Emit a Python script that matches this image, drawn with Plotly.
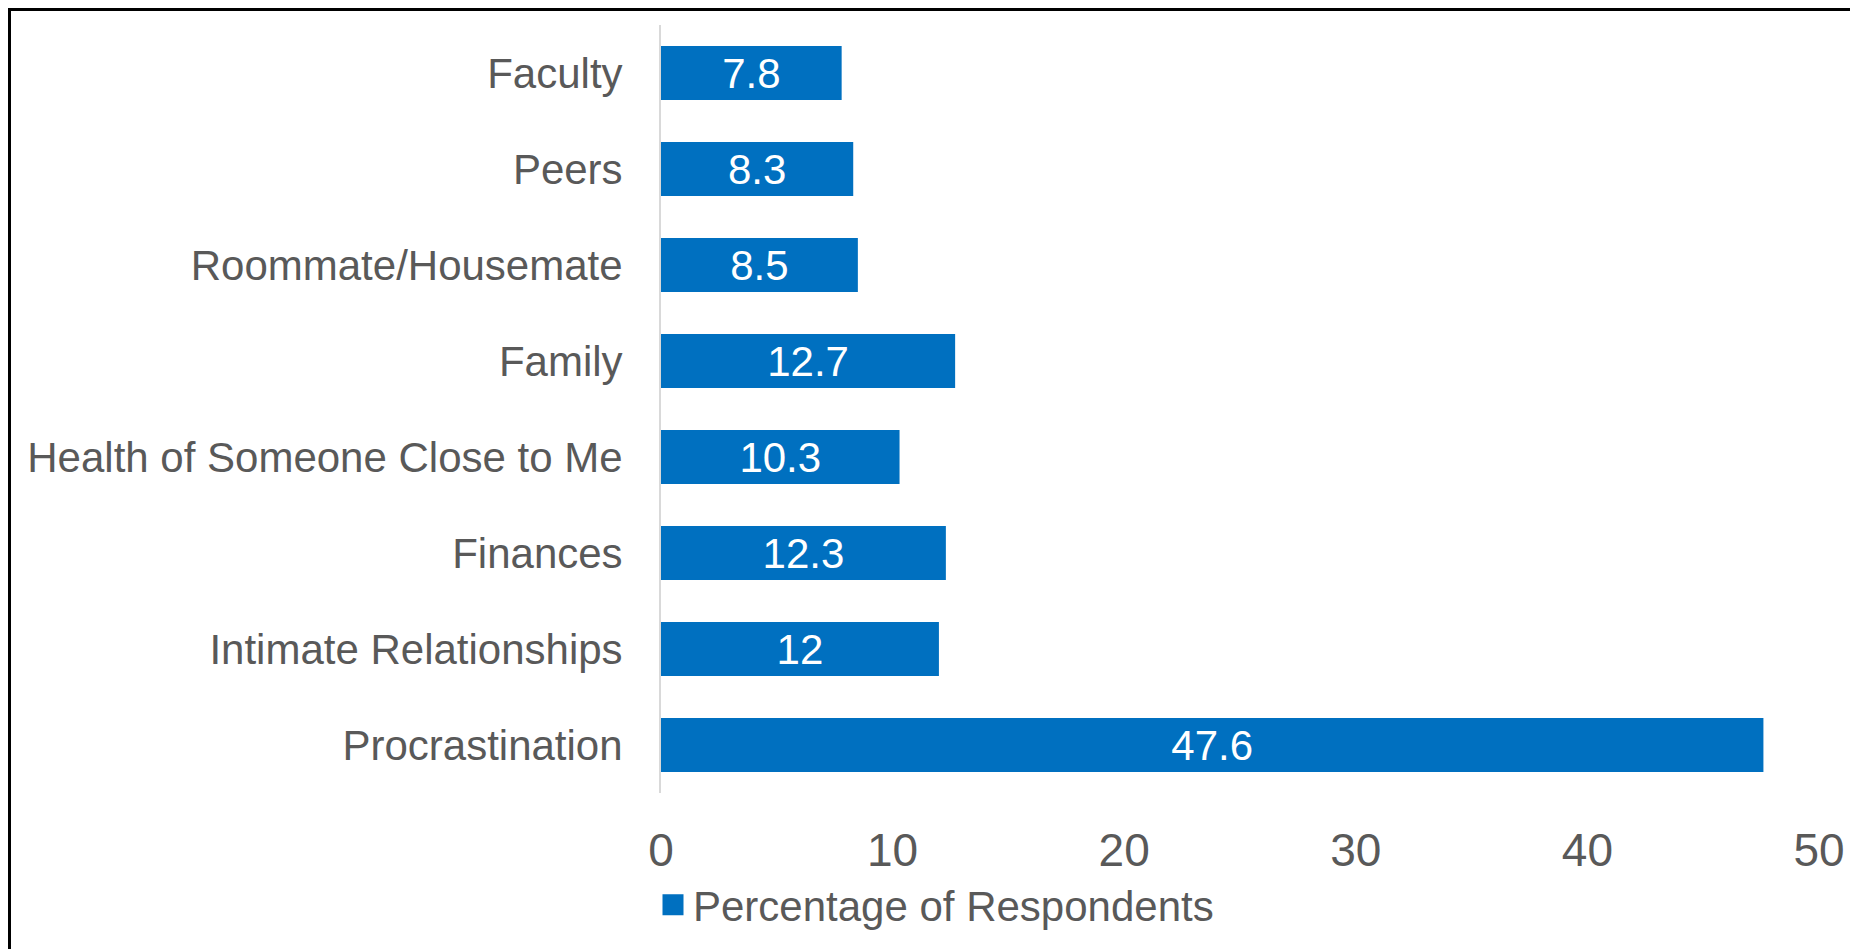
import plotly.graph_objects as go

categories = ["Faculty", "Peers", "Roommate/Housemate", "Family",
              "Health of Someone Close to Me", "Finances",
              "Intimate Relationships", "Procrastination"]
values = [7.8, 8.3, 8.5, 12.7, 10.3, 12.3, 12, 47.6]
value_labels = ["7.8", "8.3", "8.5", "12.7", "10.3", "12.3", "12", "47.6"]
series_name = "Percentage of Respondents"
x_ticks = [0, 10, 20, 30, 40, 50]

# page has an 8px body margin, so the figure is 8px smaller
W, H = 1850, 941
L, R, T, B = 653, 39, 17, 156
FONT = "Liberation Sans, Arial, sans-serif"
GRAY = "#595959"
BLUE = "#0070C0"

fig = go.Figure()
fig.add_trace(go.Bar(
    y=categories, x=values, orientation="h",
    marker=dict(color=BLUE, line=dict(width=0)),
    text=value_labels, textposition="inside", insidetextanchor="middle",
    textfont=dict(color="white", size=42, family=FONT),
    constraintext="none", showlegend=False, hoverinfo="x+y",
))
# legend entry
fig.add_trace(go.Scatter(
    x=[None], y=[None], mode="markers", name=series_name,
    marker=dict(symbol="square", size=16, color=BLUE,
                line=dict(color=BLUE, width=5)),
    showlegend=True,
))

pw = W - L - R
ph = H - T - B
def px_x(p):
    return (p - L) / pw
def px_y(p):
    return (H - B - p) / ph

fig.add_shape(type="rect", xref="paper", yref="paper",
              x0=px_x(1.5), x1=px_x(1880), y0=px_y(970), y1=px_y(1.5),
              line=dict(color="black", width=3), fillcolor="rgba(0,0,0,0)",
              layer="above")

fig.update_layout(
    template="none",
    width=W, height=H,
    margin=dict(l=L, r=R, t=T, b=B, pad=0, autoexpand=False),
    paper_bgcolor="white", plot_bgcolor="white",
    bargap=0.44,
    font=dict(family=FONT, color=GRAY),
    showlegend=True,
    legend=dict(orientation="h", xref="container", yref="container",
                x=645 / W, y=1 - 897 / H, xanchor="left", yanchor="middle",
                font=dict(size=42, color=GRAY, family=FONT),
                bgcolor="rgba(0,0,0,0)", borderwidth=0),
    xaxis=dict(range=[0, 50], tickvals=x_ticks, showgrid=False,
               zeroline=False, showline=False, ticks="", automargin=False,
               tickfont=dict(size=46, color=GRAY, family=FONT),
               ticklabelstandoff=26, fixedrange=True),
    yaxis=dict(categoryorder="array", categoryarray=categories,
               autorange="reversed", showgrid=False, zeroline=False,
               showline=True, linecolor="#D9D9D9", linewidth=2,
               automargin=False,
               ticks="", tickfont=dict(size=42, color=GRAY, family=FONT),
               ticklabelstandoff=28, fixedrange=True),
)

fig.write_html("out.html")
